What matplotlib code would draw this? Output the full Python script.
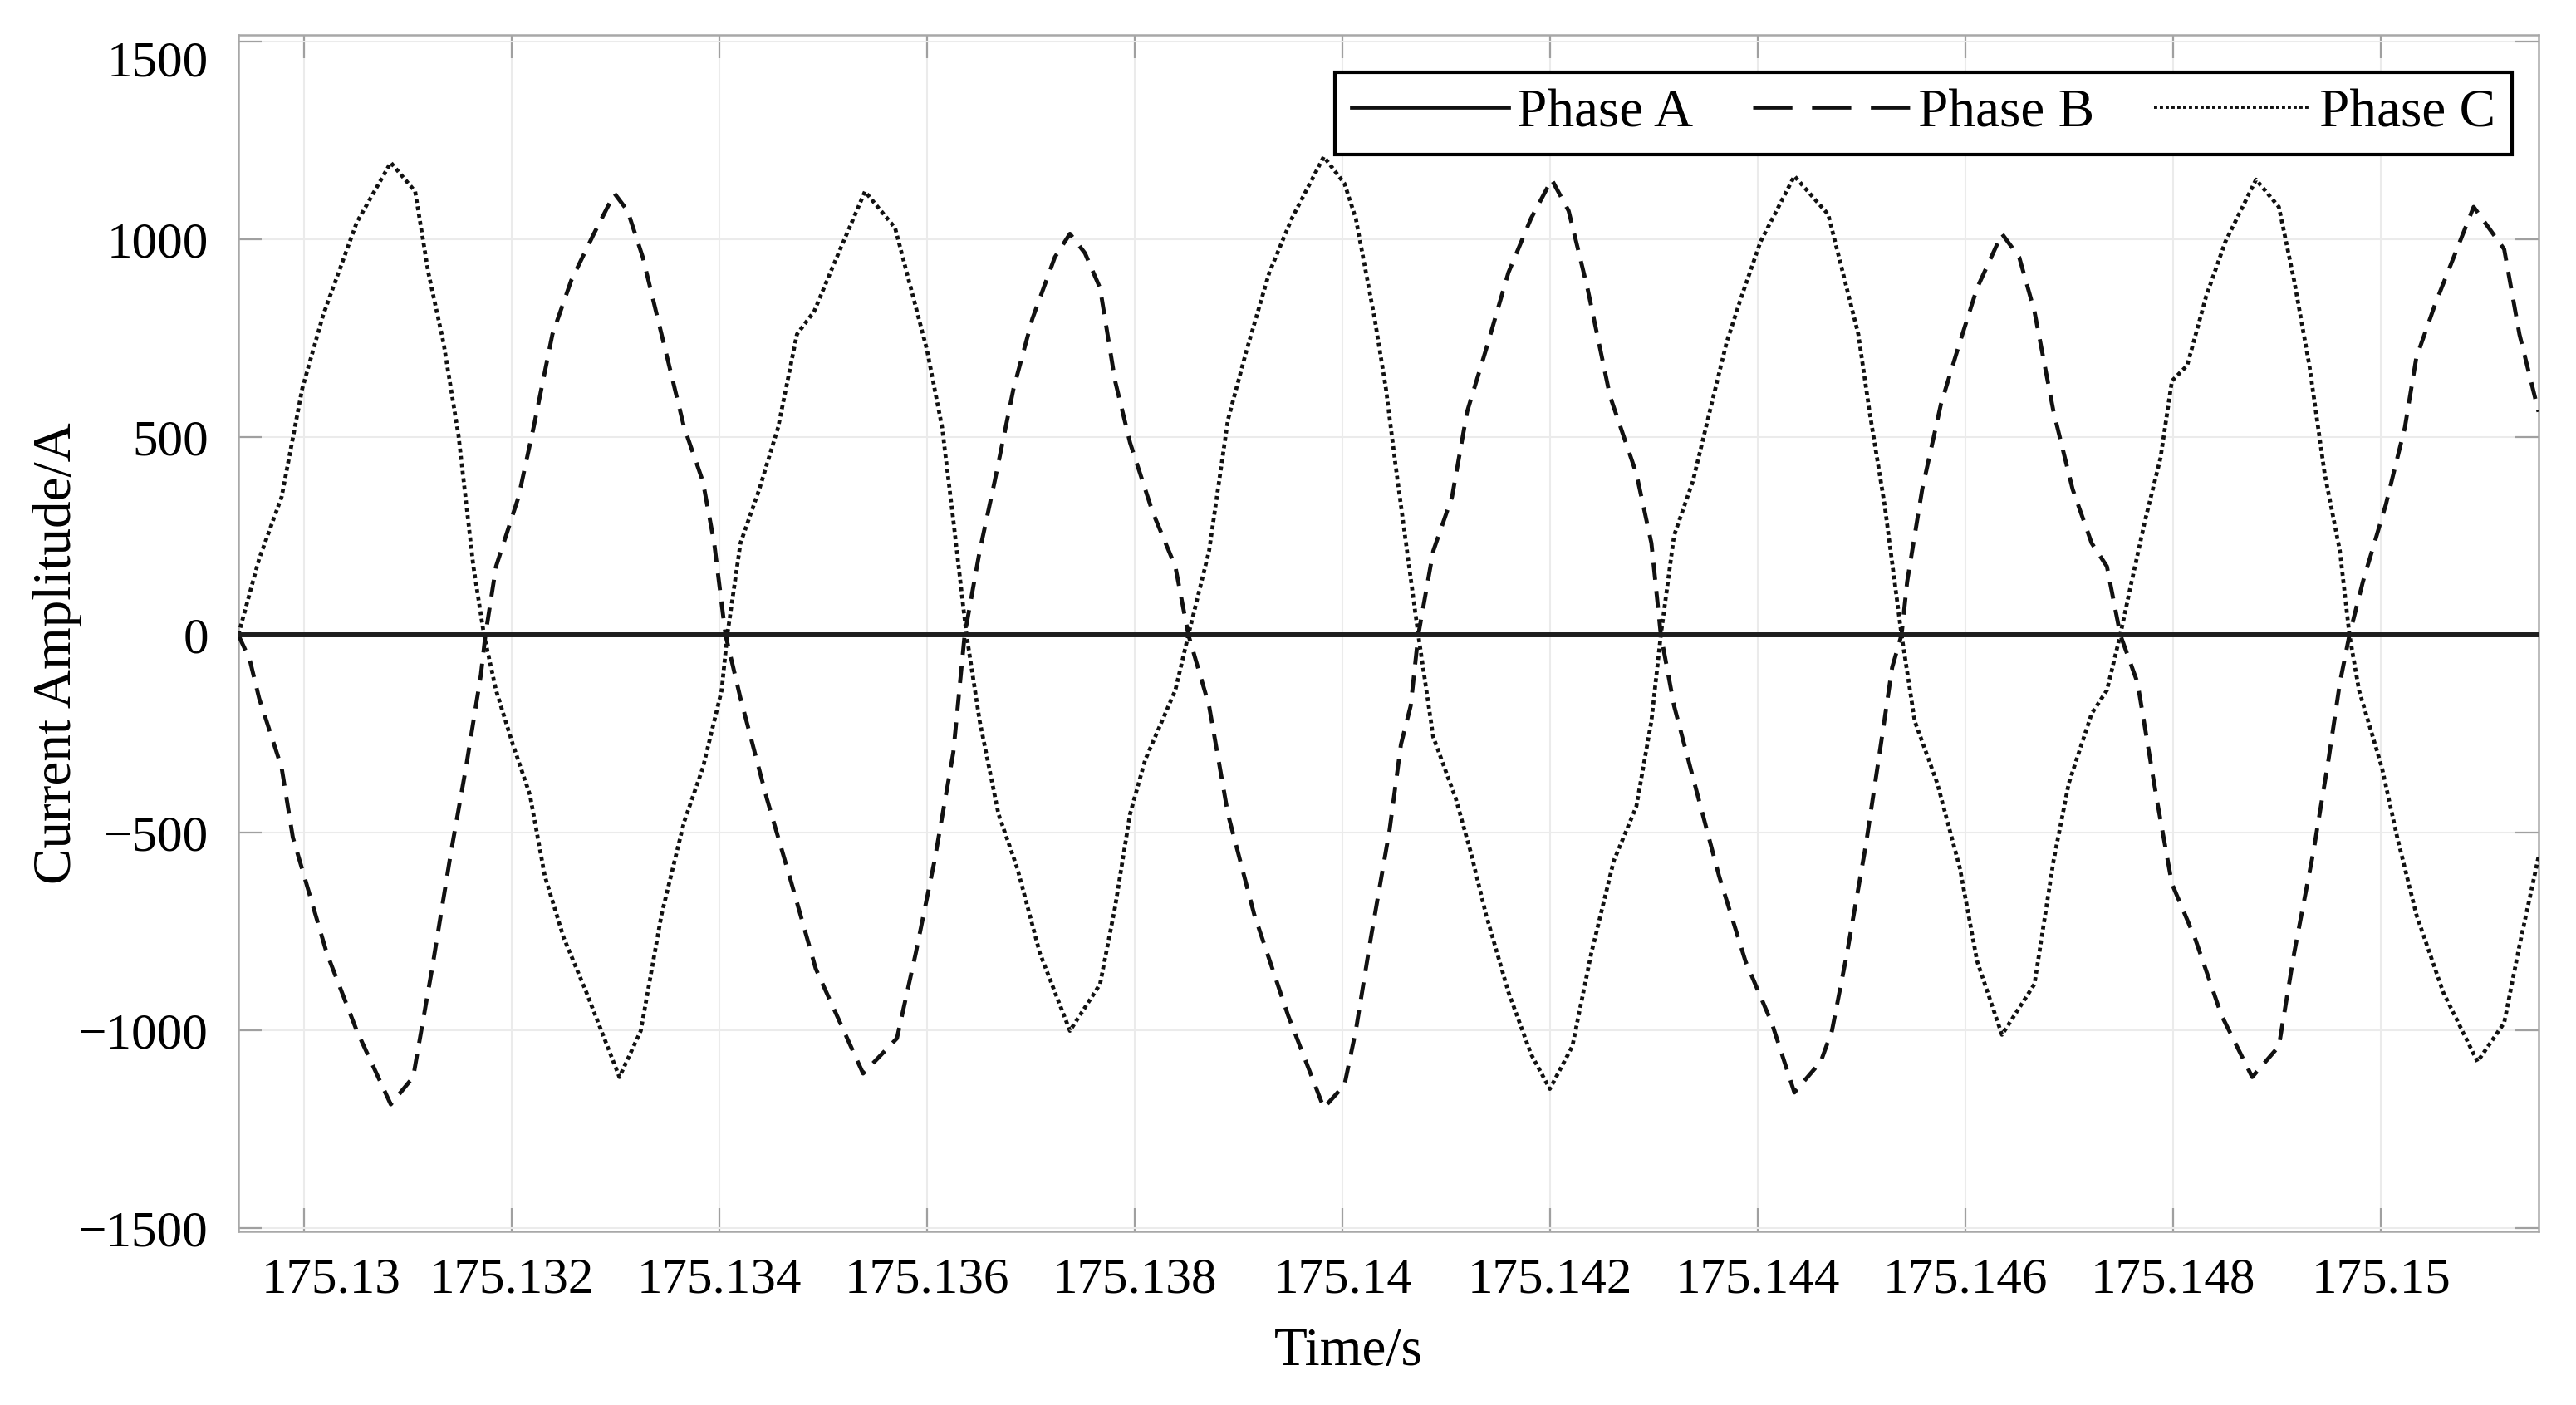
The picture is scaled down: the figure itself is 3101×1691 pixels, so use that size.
import numpy as np
import matplotlib
matplotlib.use('Agg')
import matplotlib.pyplot as plt
from matplotlib.lines import Line2D
from matplotlib.transforms import ScaledTranslation

plt.rcParams['font.family'] = ['Liberation Serif', 'DejaVu Serif']

# time offsets in ms from 175.13 s, values in A
t0 = 175.13
tc_ms = [-0.634, -0.434, -0.217, -0.018, 0.182, 0.507, 0.834, 1.069, 1.196, 1.341,
         1.486, 1.630, 1.732, 1.848, 2.010, 2.174, 2.318, 2.500, 2.717, 3.036,
         3.242, 3.442, 3.659, 3.840, 4.021, 4.075, 4.202, 4.383, 4.565, 4.746,
         4.912, 5.130, 5.401, 5.691, 5.998, 6.144, 6.252, 6.379, 6.506, 6.687,
         6.868, 7.086, 7.375, 7.665, 7.810, 7.954, 8.100, 8.390, 8.516, 8.715,
         8.897, 9.078, 9.295, 9.512, 9.820, 10.019, 10.128, 10.310, 10.418, 10.512,
         10.730, 10.874, 11.091, 11.237, 11.382, 11.598, 11.816, 11.997, 12.214, 12.396,
         12.613, 12.830, 12.975, 13.066, 13.193, 13.374, 13.518, 13.700, 13.845, 14.026,
         14.352, 14.678, 14.968, 15.076, 15.221, 15.384, 15.511, 15.728, 15.946, 16.112,
         16.351, 16.664, 16.848, 16.995, 17.215, 17.362, 17.491, 17.583, 17.730, 17.878,
         17.988, 18.135, 18.319, 18.503, 18.798, 19.018, 19.165, 19.312, 19.459, 19.606,
         19.698, 19.790, 20.011, 20.158, 20.342, 20.600, 20.931, 21.188, 21.335, 21.519]
phase_c = [0, 192, 349, 623, 808, 1043, 1194, 1121, 916, 740,
           505, 173, 0, -140, -277, -404, -610, -766, -903, -1118,
           -1001, -707, -473, -336, -140, 0, 232, 368, 525, 760,
           818, 955, 1121, 1029, 721, 525, 290, 0, -218, -453,
           -590, -805, -1001, -883, -688, -453, -316, -140, 0, 212,
           544, 721, 916, 1053, 1209, 1141, 1053, 799, 623, 427,
           0, -258, -414, -551, -707, -903, -1060, -1148, -1040, -805,
           -571, -434, -218, 0, 251, 388, 544, 740, 857, 994,
           1160, 1063, 760, 564, 329, 0, -218, -375, -590, -825,
           -1011, -883, -571, -375, -199, -140, 0, 114, 290, 447,
           642, 681, 857, 994, 1151, 1082, 896, 681, 408, 212,
           0, -140, -336, -512, -707, -903, -1079, -981, -786, -561]

tb_ms = [-0.634, -0.525, -0.434, -0.217, -0.109, 0.218, 0.507, 0.834, 1.050, 1.232,
         1.413, 1.558, 1.702, 1.746, 1.848, 2.065, 2.210, 2.391, 2.572, 2.790,
         2.989, 3.115, 3.261, 3.478, 3.659, 3.840, 3.949, 4.058, 4.202, 4.456,
         4.674, 4.927, 5.383, 5.709, 5.890, 6.071, 6.252, 6.361, 6.506, 6.650,
         6.832, 7.013, 7.230, 7.375, 7.520, 7.665, 7.810, 7.954, 8.172, 8.390,
         8.516, 8.715, 8.897, 9.150, 9.476, 9.820, 10.019, 10.128, 10.273, 10.454,
         10.563, 10.657, 10.730, 10.874, 11.055, 11.200, 11.382, 11.598, 11.816, 12.015,
         12.178, 12.359, 12.577, 12.830, 12.975, 13.066, 13.193, 13.410, 13.627, 13.881,
         14.134, 14.352, 14.606, 14.714, 14.859, 15.040, 15.185, 15.294, 15.384, 15.438,
         15.583, 15.764, 15.946, 16.112, 16.351, 16.517, 16.664, 16.848, 17.032, 17.215,
         17.362, 17.491, 17.657, 17.841, 17.988, 18.209, 18.466, 18.761, 19.018, 19.165,
         19.349, 19.496, 19.606, 19.698, 19.827, 20.048, 20.232, 20.342, 20.526, 20.894,
         21.188, 21.335, 21.519]
phase_b = [0, -62, -160, -336, -512, -805, -1001, -1187, -1118, -844,
           -551, -336, -101, 0, 173, 349, 525, 760, 896, 1014,
           1116, 1072, 955, 721, 525, 388, 232, 0, -160, -414,
           -610, -844, -1109, -1020, -805, -571, -297, 0, 212, 388,
           623, 799, 955, 1014, 965, 877, 642, 486, 310, 173,
           0, -179, -453, -707, -962, -1196, -1138, -1001, -766, -492,
           -277, -179, 0, 212, 349, 564, 721, 916, 1053, 1151,
           1072, 877, 603, 408, 232, 0, -179, -395, -610, -825,
           -981, -1157, -1079, -1001, -805, -532, -277, -82, 0, 134,
           368, 584, 740, 877, 1014, 955, 818, 564, 368, 232,
           173, 0, -121, -414, -629, -766, -962, -1118, -1040, -805,
           -551, -316, -121, 0, 134, 329, 525, 701, 838, 1082,
           975, 760, 564]

ta_ms = [-0.634, 21.519]
phase_a = [0, 0]

xticks = [175.13, 175.132, 175.134, 175.136, 175.138, 175.14,
          175.142, 175.144, 175.146, 175.148, 175.15]
xtick_labels = ['175.13', '175.132', '175.134', '175.136', '175.138', '175.14',
                '175.142', '175.144', '175.146', '175.148', '175.15']
yticks = [-1500, -1000, -500, 0, 500, 1000, 1500]

tc = t0 + np.array(tc_ms) / 1000
tb = t0 + np.array(tb_ms) / 1000
ta = t0 + np.array(ta_ms) / 1000

fig = plt.figure(figsize=(31.01, 16.91), dpi=100)
ax = fig.add_axes([0.0926, 0.1236, 0.8929, 0.8516])

ax.plot(tc, phase_c, color='#111111', lw=3.4, dashes=(1, 0.9), zorder=3)
ax.plot(tb, phase_b, color='#111111', lw=3.5, dashes=(4.2, 2.8), zorder=3)
ax.plot(ta, phase_a, color='#1e1e1e', lw=4.3, zorder=4)

ax.set_xlim(175.129368, 175.15152)
ax.set_ylim(-1508, 1517)
ax.set_xticks(xticks)
ax.set_xticklabels(xtick_labels)
ax.set_yticks(yticks)

ax.grid(True, color='#ebebeb', lw=1.5)
ax.set_axisbelow(True)
for s in ax.spines.values():
    s.set_color('#a8a8a8')
    s.set_linewidth(1.8)

ax.tick_params(axis='both', direction='in', length=20, width=1.6, color='#a0a0a0',
               top=True, right=True, labelsize=44)
ax.tick_params(axis='x', pad=22)
ax.tick_params(axis='y', pad=26)

# the first x label and the top y label are nudged, as in the original export
lab = ax.get_xticklabels()[0]
lab.set_transform(lab.get_transform() + ScaledTranslation(0.32, 0, fig.dpi_scale_trans))
lab = ax.get_yticklabels()[-1]
lab.set_transform(lab.get_transform() + ScaledTranslation(0, -0.2, fig.dpi_scale_trans))

ax.set_xlabel('Time/s', fontsize=47, va='top')
ax.xaxis.set_label_coords(0.4825, -0.080)
ax.set_ylabel('Current Amplitude/A', fontsize=47)
ax.yaxis.set_label_coords(-0.068, 0.483)

handles = [Line2D([], [], color='#111111', lw=3.4, ls='-'),
           Line2D([], [], color='#111111', lw=3.4, dashes=(10, 5)),
           Line2D([], [], color='#111111', lw=2.8, dashes=(1, 0.8))]
leg = ax.legend(handles, ['Phase A', 'Phase B', 'Phase C'], ncol=3,
                loc='upper right', bbox_to_anchor=(0.9884, 0.9688), borderaxespad=0,
                fontsize=47, handlelength=2.9, handletextpad=0.15, columnspacing=1.1,
                fancybox=False, framealpha=1, edgecolor='black',
                borderpad=0.3)
leg.get_frame().set_linewidth(3)

fig.savefig('out.png', dpi=100)
